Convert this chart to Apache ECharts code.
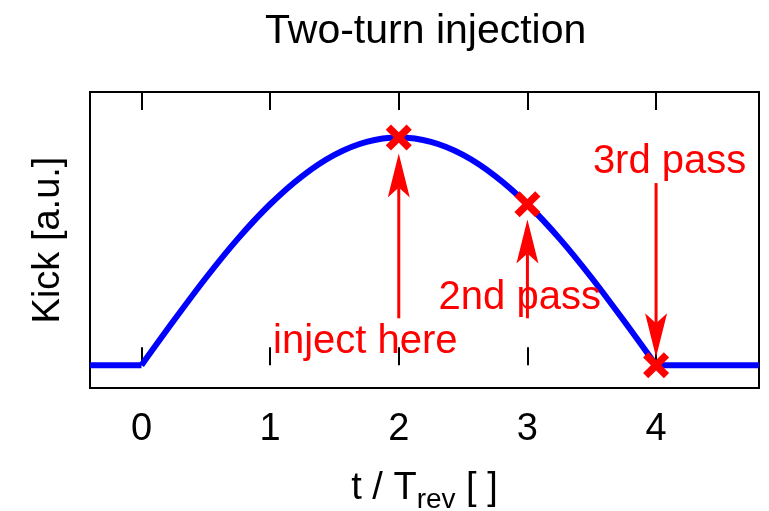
<!DOCTYPE html>
<html>
<head>
<meta charset="utf-8">
<script src="https://cdn.jsdelivr.net/npm/echarts@6/dist/echarts.min.js"></script>
<style>
  html, body { margin: 0; padding: 0; background: #fff; }
  #chart { width: 769px; height: 511px; }
</style>
</head>
<body>
<div id="chart"></div>
<script>
// Kicker pulse over time (in revolution periods): flat before and after, bump in between
const flatBeforeT = [-0.4, 0];
const flatAfterT  = [4, 4.8];
const bumpT    = [0, 0.25, 0.5, 0.75, 1, 1.25, 1.5, 1.75, 2, 2.25, 2.5, 2.75, 3, 3.25, 3.5, 3.75, 4];
const bumpKick = [0, 0.195, 0.383, 0.556, 0.707, 0.831, 0.924, 0.981, 1, 0.981, 0.924, 0.831, 0.707, 0.556, 0.383, 0.195, 0];

// Beam passages through the kicker
const passT    = [2, 3, 4];
const passKick = [1, 0.707, 0];

// Arrows: x, tail kick, tip kick
const arrowT    = [2, 3, 4];
const arrowFrom = [0.206, 0.206, 0.80];
const arrowTo   = [0.93, 0.64, 0.035];

// Annotation texts and their anchors (data units)
const noteText = ['inject here', '2nd pass', '3rd pass'];
const noteT    = [1.74, 2.94, 4.105];
const noteKick = [0.100, 0.296, 0.893];

const xTicks = [0, 1, 2, 3, 4];

const FONT = '"Liberation Sans", Arial, Helvetica, sans-serif';

const chart = echarts.init(document.getElementById('chart'), null, { renderer: 'canvas' });

const crossPath = 'path://M0,2L2,0L5,3L8,0L10,2L7,5L10,8L8,10L5,7L2,10L0,8L3,5Z';
const blueLine = { color: '#0000ff', width: 6 };

chart.setOption({
  animation: false,
  backgroundColor: '#ffffff',
  title: {
    text: 'Two-turn injection',
    left: 260,
    top: 6,
    textStyle: { fontFamily: FONT, fontSize: 41, fontWeight: 'normal', color: '#000' }
  },
  grid: {
    left: 90, right: 10, top: 92, bottom: 123,
    containLabel: false,
    outerBoundsMode: 'none',
    show: true, borderColor: '#000', borderWidth: 2, backgroundColor: 'transparent'
  },
  xAxis: [
    {
      type: 'value', min: -0.4, max: 4.8, position: 'bottom',
      name: '{a|t / T}{s|rev}{a| [ ]}',
      nameLocation: 'middle', nameGap: 76,
      nameTextStyle: {
        rich: {
          a: { fontFamily: FONT, fontSize: 38, color: '#000' },
          s: { fontFamily: FONT, fontSize: 28, color: '#000', padding: [22, 0, 0, 0] }
        }
      },
      axisLine: { show: false },
      splitLine: { show: false },
      axisTick: { show: true, inside: true, length: 18, customValues: xTicks, lineStyle: { color: '#000', width: 2 } },
      axisLabel: { show: true, customValues: xTicks, margin: 23, fontFamily: FONT, fontSize: 38, color: '#000' }
    },
    {
      type: 'value', min: -0.4, max: 4.8, position: 'top',
      axisLine: { show: false },
      splitLine: { show: false },
      axisTick: { show: true, inside: true, length: 18, customValues: xTicks, lineStyle: { color: '#000', width: 2 } },
      axisLabel: { show: false }
    }
  ],
  yAxis: {
    type: 'value', min: -0.1, max: 1.2,
    name: 'Kick [a.u.]', nameLocation: 'middle', nameGap: 22,
    nameTextStyle: { fontFamily: FONT, fontSize: 38, color: '#000' },
    axisLine: { show: false }, axisTick: { show: false },
    axisLabel: { show: false }, splitLine: { show: false }
  },
  series: [
    {
      type: 'line',
      data: flatBeforeT.map(t => [t, 0]),
      showSymbol: false,
      lineStyle: blueLine,
      z: 2
    },
    {
      type: 'line',
      data: bumpT.map((t, i) => [t, bumpKick[i]]),
      smooth: 0.3,
      showSymbol: false,
      lineStyle: blueLine,
      z: 2
    },
    {
      type: 'line',
      data: flatAfterT.map(t => [t, 0]),
      showSymbol: false,
      lineStyle: blueLine,
      z: 2
    },
    {
      type: 'custom',
      coordinateSystem: 'cartesian2d',
      data: arrowT.map((t, i) => [t, arrowFrom[i], arrowTo[i]]),
      encode: { x: 0, y: [1, 2] },
      renderItem: function (params, api) {
        const p0 = api.coord([api.value(0), api.value(1)]);
        const p1 = api.coord([api.value(0), api.value(2)]);
        const dir = p1[1] < p0[1] ? -1 : 1;   // -1 points up, 1 points down
        const headLen = 44, halfW = 11, notch = 34;
        return {
          type: 'group',
          children: [
            {
              type: 'line',
              shape: { x1: p0[0], y1: p0[1], x2: p1[0], y2: p1[1] - dir * notch },
              style: { stroke: '#ff0000', lineWidth: 3 }
            },
            {
              type: 'polygon',
              shape: {
                points: [
                  [p1[0], p1[1]],
                  [p1[0] - halfW, p1[1] - dir * headLen],
                  [p1[0], p1[1] - dir * notch],
                  [p1[0] + halfW, p1[1] - dir * headLen]
                ]
              },
              style: { fill: '#ff0000' }
            }
          ]
        };
      },
      z: 3
    },
    {
      type: 'scatter',
      data: passT.map((t, i) => [t, passKick[i]]),
      symbol: crossPath,
      symbolSize: 26,
      itemStyle: { color: '#ff0000', opacity: 1 },
      z: 4
    },
    {
      type: 'custom',
      coordinateSystem: 'cartesian2d',
      data: noteT.map((t, i) => [t, noteKick[i], i]),
      encode: { x: 0, y: 1 },
      renderItem: function (params, api) {
        const p = api.coord([api.value(0), api.value(1)]);
        return {
          type: 'text',
          x: p[0], y: p[1],
          style: {
            text: noteText[api.value(2)],
            fill: '#ff0000',
            font: '40px ' + FONT,
            align: 'center',
            verticalAlign: 'middle'
          }
        };
      },
      z: 5
    }
  ]
});
</script>
</body>
</html>
